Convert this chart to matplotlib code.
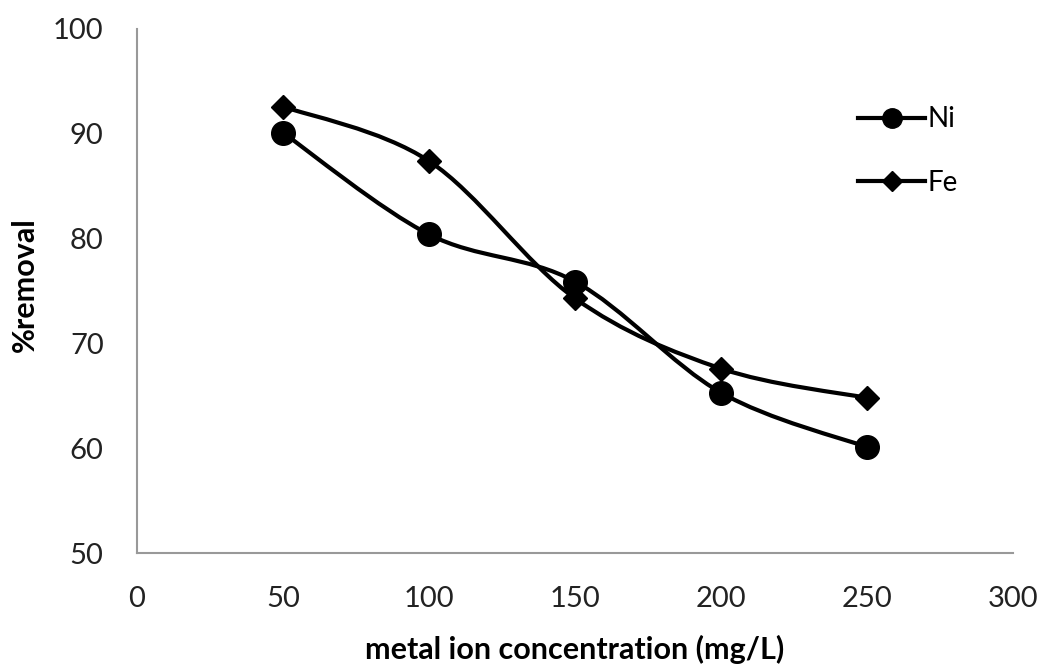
import matplotlib.pyplot as plt
import numpy as np
from matplotlib.path import Path
from matplotlib.patches import PathPatch
from matplotlib.lines import Line2D

conc = [50, 100, 150, 200, 250]
ni_removal = [90.1, 80.4, 75.9, 65.3, 60.1]
fe_removal = [92.6, 87.4, 74.3, 67.6, 64.8]
x_ticks = [0, 50, 100, 150, 200, 250, 300]
y_ticks = [50, 60, 70, 80, 90, 100]

plt.rcParams["font.family"] = ["Lato", "DejaVu Sans"]


def smooth_path(x, y):
    # excel-like smoothed line: catmull-rom as cubic bezier segments
    pts = np.column_stack([x, y]).astype(float)
    n = len(pts)
    verts = [pts[0]]
    codes = [Path.MOVETO]
    for i in range(n - 1):
        p0 = pts[i - 1] if i > 0 else pts[i]
        p1 = pts[i]
        p2 = pts[i + 1]
        p3 = pts[i + 2] if i + 2 < n else pts[i + 1]
        c1 = p1 + (p2 - p0) / 6
        c2 = p2 - (p3 - p1) / 6
        verts += [c1, c2, p2]
        codes += [Path.CURVE4] * 3
    return Path(verts, codes)


fig = plt.figure(figsize=(10.41, 6.65), dpi=100)
ax = fig.add_axes([0.1316, 0.1684, 0.8415, 0.788])

for vals in (ni_removal, fe_removal):
    ax.add_patch(PathPatch(smooth_path(conc, vals), fill=False,
                           lw=3, color="black", capstyle="round"))
ax.plot(conc, ni_removal, "o", color="black", ms=17, ls="none")
ax.plot(conc, fe_removal, "D", color="black", ms=12.5, ls="none")

handles = [Line2D([], [], color="black", lw=3, marker="o", ms=14),
           Line2D([], [], color="black", lw=3, marker="D", ms=10)]
ax.legend(handles, ["Ni", "Fe"], frameon=False, fontsize=20,
          handlelength=2.4, handletextpad=0.1, labelspacing=1.35,
          loc="upper left", bbox_to_anchor=(0.795, 0.90))

ax.set_xlim(0, 300)
ax.set_ylim(50, 100)
ax.set_xticks(x_ticks)
ax.set_yticks(y_ticks)
ax.tick_params(length=0, labelsize=21, pad=24, labelcolor="#222222")
for s in ("top", "right"):
    ax.spines[s].set_visible(False)
for s in ("left", "bottom"):
    ax.spines[s].set_color("#999999")
    ax.spines[s].set_linewidth(1.5)

ax.set_xlabel("metal ion concentration (mg/L)", fontsize=22,
              fontweight="bold", labelpad=16)
ax.set_ylabel("%removal", fontsize=22, fontweight="bold")
ax.yaxis.set_label_coords(-0.112, 0.513)

fig.savefig("out.png", dpi=100)
